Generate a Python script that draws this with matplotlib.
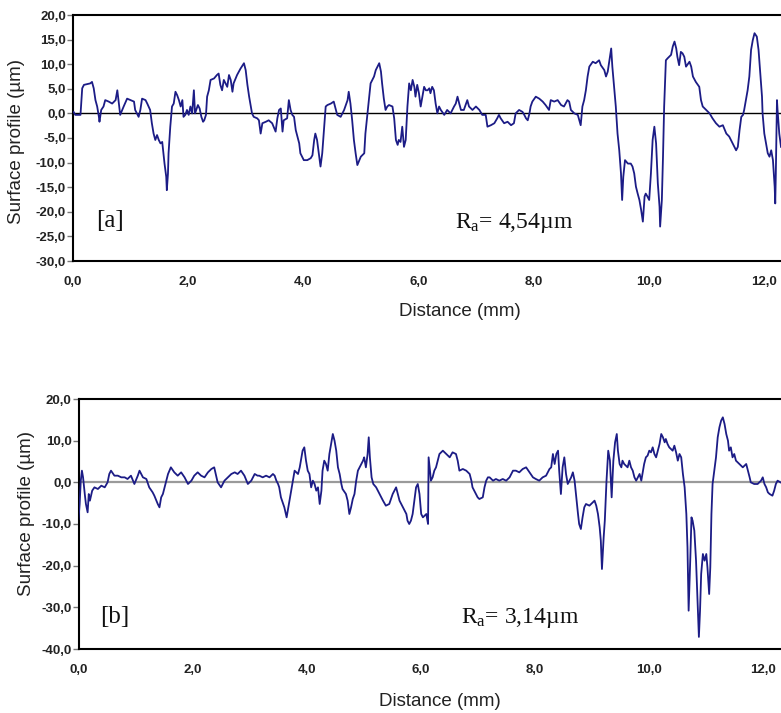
import matplotlib
matplotlib.use("Agg")
import matplotlib.pyplot as plt
from matplotlib.ticker import FuncFormatter
import numpy as np

plt.rcParams['mathtext.fontset'] = 'custom'
plt.rcParams['mathtext.rm'] = 'Liberation Serif'
plt.rcParams['mathtext.it'] = 'Liberation Serif:italic'

# ---------------- data (distance mm, profile um) ----------------
profile_a_1 = [(0.01,0.3),(0.04,-0.3),(0.13,-0.3),(0.16,5.1),(0.19,5.8),(0.30,6.1),(0.33,6.4),(0.36,5.1),(0.39,2.7),(0.42,1.4),
    (0.45,-0.7),(0.46,-1.7),(0.49,0.7),(0.53,1.4),(0.56,2.7),(0.62,2.4),(0.68,2.0),(0.74,2.7),(0.77,4.7),(0.79,2.7),
    (0.82,-0.3),(0.88,1.4),(0.94,3.0),(1.00,2.7),(1.06,2.4),(1.08,0.7),(1.14,-0.7),(1.17,0.7),(1.20,3.0),(1.26,2.7),
    (1.29,2.0),(1.34,0.7),(1.37,-2.0),(1.40,-4.1),(1.43,-5.4),(1.46,-4.4),(1.49,-5.4),(1.52,-6.1),(1.55,-5.8),(1.57,-8.1),
    (1.59,-10.2),(1.62,-12.9),(1.63,-15.6),(1.65,-12.2),(1.66,-8.1),(1.69,-2.7),(1.72,1.4),(1.75,2.0),(1.78,4.4),(1.81,3.7),
    (1.84,2.7),(1.87,1.4),(1.90,2.7),(1.92,-0.7),(1.95,-0.3),(1.98,0.7),(2.01,-0.3),(2.04,1.4),(2.07,0.0),(2.10,4.7),
    (2.12,0.0),(2.14,0.7),(2.17,1.7),(2.20,1.0),(2.23,-0.7),(2.26,-1.7),(2.28,-1.4),(2.31,-0.3),(2.33,3.4),(2.36,4.7),
    (2.39,6.8),(2.45,7.1),(2.50,7.8),(2.53,8.1),(2.56,5.8),(2.59,4.7),(2.62,6.8),(2.68,5.4),(2.71,7.8),(2.74,6.8),
    (2.77,4.4),(2.79,6.1),(2.85,7.8),(2.91,9.1),(2.97,10.2),(3.00,8.8),(3.03,5.8),(3.06,3.4),(3.08,2.0),(3.11,0.0),
    (3.14,-0.7),(3.20,-1.0)]
profile_a_2 = [(3.23,-1.4),(3.26,-4.1),(3.29,-2.0),(3.35,-1.7),(3.40,-1.4),(3.46,-2.0),(3.52,-3.7),(3.55,-1.0),(3.58,0.7),(3.61,1.0),
    (3.64,-3.7),(3.66,-1.4),(3.72,-1.0),(3.75,2.7),(3.78,0.7),(3.81,-0.3),(3.84,-0.7),(3.87,-3.4),(3.93,-6.1),(3.95,-8.1),
    (4.01,-9.5),(4.07,-9.5),(4.13,-9.1),(4.16,-8.5),(4.19,-5.4),(4.21,-4.1),(4.24,-5.4),(4.27,-8.1),(4.30,-10.8),(4.33,-8.1),
    (4.36,-3.4),(4.39,1.4),(4.42,1.7),(4.48,2.0),(4.53,2.4),(4.59,-0.3),(4.65,-0.7),(4.71,0.7),(4.77,2.7),(4.79,4.4),
    (4.82,2.0),(4.85,-1.4),(4.88,-5.4),(4.91,-8.1),(4.94,-10.5),(5.00,-8.8),(5.06,-8.1),(5.08,-4.1),(5.11,-0.7),(5.14,2.7),
    (5.17,6.1),(5.23,7.5),(5.26,8.8),(5.32,10.2),(5.35,8.5),(5.37,6.1),(5.40,3.0),(5.43,0.7),(5.46,1.4),(5.49,1.7),
    (5.55,1.4),(5.58,-1.0),(5.61,-5.4),(5.64,-6.4),(5.66,-5.4),(5.69,-5.8),(5.72,-2.7),(5.75,-6.8),(5.78,-5.4),(5.81,1.4),
    (5.84,6.1),(5.87,4.7),(5.90,6.8),(5.93,5.4),(5.95,3.4),(5.98,5.8),(6.01,4.1),(6.04,1.4),(6.07,3.4),(6.10,5.4),
    (6.13,4.7),(6.16,4.7),(6.19,5.1),(6.21,4.1),(6.24,5.4),(6.27,4.7),(6.30,2.0),(6.33,0.0),(6.36,1.4),(6.39,0.7),
    (6.45,-0.3),(6.50,0.7),(6.56,0.0),(6.62,1.4),(6.65,2.0),(6.68,3.4),(6.71,2.0),(6.74,0.7),(6.79,0.7),(6.85,2.7),
    (6.88,1.4),(6.94,0.7),(7.00,1.4),(7.06,0.7),(7.11,-0.3),(7.17,-0.3),(7.20,-2.7),(7.26,-2.4),(7.32,-2.0),(7.37,-1.0),
    (7.40,-0.3)]
profile_a_3 = [(7.43,-1.0),(7.49,-2.0),(7.55,-1.7),(7.61,-2.4),(7.66,-2.0),(7.69,0.0),(7.75,0.7),(7.81,0.3),(7.84,-0.3),(7.87,-1.0),
    (7.90,-1.4),(7.93,0.0),(7.95,1.4),(7.98,2.4),(8.04,3.4),(8.10,3.0),(8.16,2.4),(8.21,1.7),(8.27,0.7),(8.30,2.7),
    (8.36,2.4),(8.42,2.7),(8.48,1.7),(8.53,1.4),(8.59,2.7),(8.62,2.4),(8.65,0.7),(8.71,0.0),(8.77,-0.3),(8.82,-2.4),
    (8.85,1.4),(8.88,2.7),(8.91,4.7),(8.94,7.5),(8.97,9.5),(9.03,10.5),(9.08,10.2),(9.14,10.8),(9.17,9.8),(9.23,8.8),
    (9.26,7.5),(9.29,8.5),(9.32,10.8),(9.35,13.2),(9.37,9.5),(9.40,5.4),(9.43,1.4),(9.46,-4.1),(9.49,-7.5),(9.52,-12.2),
    (9.54,-17.6),(9.56,-12.9),(9.59,-9.5),(9.64,-10.2),(9.69,-10.2),(9.72,-10.8),(9.75,-12.2),(9.78,-14.9),(9.81,-16.3),(9.84,-17.6),
    (9.87,-19.6),(9.90,-22.0),(9.93,-16.9),(9.95,-16.3),(9.98,-16.9),(10.01,-17.6),(10.04,-12.2),(10.07,-5.4),(10.10,-2.7),(10.13,-6.1),
    (10.16,-14.2),(10.19,-19.0),(10.20,-23.0),(10.23,-17.6),(10.25,-8.8),(10.27,1.4),(10.30,10.8),(10.33,11.2),(10.39,11.9),(10.42,13.6),
    (10.45,14.6),(10.48,13.2),(10.50,11.5),(10.53,9.8),(10.56,12.5),(10.59,12.2),(10.62,11.5),(10.65,9.5),(10.71,10.5),(10.74,9.5),
    (10.77,7.5),(10.82,6.4),(10.88,5.4),(10.91,2.7),(10.94,1.4),(11.00,0.7),(11.06,0.0),(11.11,-1.0),(11.17,-2.0),(11.23,-2.7),
    (11.29,-2.4),(11.35,-4.1),(11.40,-4.7),(11.43,-5.4),(11.49,-6.8),(11.52,-7.5),(11.55,-6.8),(11.58,-3.4),(11.61,-0.7),(11.64,-0.3),
    (11.66,0.7),(11.69,2.7),(11.72,4.7),(11.75,7.5),(11.78,12.9),(11.81,14.9),(11.84,16.3),(11.88,15.6),(11.91,12.9),(11.94,8.1),
    (11.97,3.4),(11.98,0.0),(12.01,-4.1),(12.04,-6.1),(12.07,-8.1),(12.10,-8.8),(12.13,-7.5),(12.16,-9.5),(12.19,-14.9),(12.20,-18.3),
    (12.21,-12.2),(12.23,2.7),(12.24,0.7),(12.27,-4.1),(12.30,-6.8)]

profile_b_1 = [(0.00,-8.8),(0.02,-5.2),(0.04,0.4),(0.06,2.8),(0.08,1.2),(0.11,-2.8),(0.13,-5.2),(0.16,-7.2),(0.18,-2.8),(0.20,-4.4),
    (0.24,-2.0),(0.28,-1.2),(0.34,-1.6),(0.40,-0.8),(0.46,-1.2),(0.51,0.0),(0.54,2.0),(0.57,2.8),(0.63,1.6),(0.69,1.6),
    (0.75,1.2),(0.81,1.2),(0.86,0.8),(0.92,1.6),(0.98,-0.4),(1.04,1.6),(1.07,2.8),(1.13,1.2),(1.19,0.8),(1.24,-1.2),
    (1.30,-2.4),(1.33,-3.2),(1.39,-5.2),(1.42,-6.0),(1.45,-3.6),(1.48,-2.8),(1.51,-1.2),(1.57,2.0),(1.62,3.6),(1.68,2.4),
    (1.74,1.6),(1.80,2.4),(1.86,1.2),(1.92,-0.4),(1.98,0.4),(2.03,1.6),(2.09,2.4),(2.15,1.6),(2.21,1.2),(2.27,2.4),
    (2.33,3.2),(2.38,3.6),(2.44,0.0),(2.50,-1.2),(2.56,0.4),(2.62,1.2),(2.68,2.0),(2.74,2.4),(2.79,2.0),(2.85,2.8),
    (2.91,1.6),(2.97,-0.4),(3.03,0.4),(3.09,2.0),(3.14,1.6)]
profile_b_2 = [(3.17,1.6),(3.23,1.2),(3.29,1.6),(3.35,1.2),(3.41,2.0),(3.44,1.6),(3.47,0.4),(3.50,-0.4),(3.52,-1.2),(3.55,-3.6),
    (3.61,-6.0),(3.65,-8.4),(3.69,-5.2),(3.73,-2.0),(3.76,0.4),(3.79,2.8),(3.85,2.0),(3.88,3.6),(3.90,5.2),(3.93,7.6),
    (3.96,8.4),(3.99,5.2),(4.02,2.8),(4.05,2.0),(4.08,-1.2),(4.11,0.4),(4.14,-0.4),(4.17,-2.0),(4.20,-1.2),(4.23,-5.2),
    (4.26,-2.0),(4.28,2.8),(4.31,5.2),(4.34,4.4),(4.37,2.8),(4.40,6.8),(4.43,9.2),(4.46,11.6),(4.49,10.0),(4.52,7.6),
    (4.55,3.6),(4.58,2.0),(4.61,-0.4),(4.63,-1.6),(4.69,-2.8),(4.72,-4.4),(4.75,-7.6),(4.78,-6.0),(4.81,-4.0),(4.84,-2.8),
    (4.87,0.4),(4.90,2.8),(4.93,3.6),(4.96,4.4),(4.99,5.2),(5.01,6.0),(5.04,3.6),(5.07,6.8),(5.09,10.8),(5.11,6.0),
    (5.14,1.2),(5.17,-0.4),(5.22,-1.2),(5.28,-2.8),(5.34,-4.4),(5.39,-5.6),(5.45,-5.2),(5.51,-2.8),(5.54,-2.0),(5.57,-1.2),
    (5.60,-2.8),(5.63,-4.4),(5.69,-6.0),(5.75,-7.6),(5.77,-9.2),(5.80,-10.0),(5.83,-9.2),(5.86,-7.6),(5.89,-4.4),(5.92,-1.2),
    (5.95,-0.4),(5.98,-2.8),(6.01,-7.6),(6.04,-8.4),(6.07,-8.0),(6.10,-7.6),(6.13,-10.0),(6.14,6.0),(6.17,2.0),(6.18,0.4),
    (6.21,1.2),(6.24,2.8),(6.27,3.6),(6.30,5.2),(6.33,6.8),(6.36,7.2),(6.39,7.6),(6.45,6.8),(6.51,6.0),(6.56,7.2),
    (6.62,6.8),(6.65,5.2),(6.68,2.8),(6.74,3.2),(6.80,2.8),(6.86,2.0),(6.89,0.4),(6.91,-1.2),(6.94,-2.0),(6.97,-2.8),
    (7.00,-3.6),(7.03,-4.0),(7.09,-3.6),(7.12,-1.2),(7.15,0.4),(7.18,1.2),(7.21,1.2),(7.27,0.4),(7.32,0.8)]
profile_b_3 = [(7.38,0.4),(7.44,0.8),(7.50,0.4),(7.56,1.2),(7.62,2.8),(7.67,2.8),(7.73,2.4),(7.79,3.2),(7.85,3.6),(7.91,2.4),
    (7.97,1.2),(8.02,0.8),(8.08,0.4),(8.14,1.2),(8.20,1.6),(8.26,3.2),(8.29,3.6),(8.32,6.8),(8.35,4.4),(8.38,6.8),
    (8.41,7.6),(8.43,2.8),(8.46,-2.8),(8.49,3.6),(8.52,6.0),(8.55,2.0),(8.58,-0.4),(8.61,0.4),(8.64,1.2),(8.67,2.4),
    (8.70,0.4),(8.73,-3.6),(8.76,-7.6),(8.78,-10.0),(8.81,-11.2),(8.84,-8.4),(8.87,-6.0),(8.90,-5.2),(8.96,-5.6),(9.02,-4.8),
    (9.05,-4.4),(9.08,-5.6),(9.11,-7.6),(9.14,-10.8),(9.16,-14.0),(9.18,-20.8),(9.21,-13.2),(9.23,-9.2),(9.26,0.4),(9.29,7.6),
    (9.32,5.2),(9.35,-3.6),(9.38,5.2),(9.41,9.6),(9.44,11.6),(9.46,7.6),(9.49,4.4),(9.52,3.6),(9.54,5.2),(9.57,4.4),
    (9.60,4.0),(9.63,3.6),(9.66,5.2),(9.69,3.6),(9.72,2.8),(9.75,1.2),(9.78,0.4),(9.81,1.2),(9.84,2.0),(9.87,0.4),
    (9.90,2.8),(9.92,4.4),(9.95,6.0),(9.98,6.4),(10.01,7.6),(10.04,7.2),(10.07,8.4),(10.10,6.8),(10.13,6.0),(10.16,7.6),
    (10.19,9.2),(10.22,11.6),(10.25,10.8),(10.28,9.6),(10.30,10.4),(10.33,9.2),(10.36,8.4),(10.42,7.6),(10.45,8.8),(10.48,7.2),
    (10.51,5.2),(10.54,6.8),(10.57,6.0),(10.60,2.0),(10.63,-1.2),(10.66,-7.6),(10.68,-15.6),(10.70,-30.8),(10.73,-18.0),(10.75,-8.4),
    (10.77,-9.2),(10.80,-11.6),(10.83,-18.8),(10.86,-30.0),(10.88,-37.1),(10.90,-30.8),(10.92,-22.0),(10.95,-17.2),(10.98,-18.8),(11.01,-17.2),
    (11.03,-20.4),(11.06,-26.8),(11.08,-20.4),(11.10,-7.6),(11.12,-0.4),(11.15,2.8),(11.18,6.0),(11.21,10.8),(11.24,13.2),(11.27,14.8),
    (11.30,15.6),(11.33,14.0),(11.36,11.6),(11.39,10.0),(11.41,7.6),(11.44,8.4),(11.47,6.0),(11.50,6.8),(11.53,5.2),(11.59,4.4),
    (11.65,3.6),(11.71,4.4),(11.74,2.8),(11.77,1.2),(11.79,0.0),(11.85,-0.4),(11.91,-0.4),(11.97,0.4),(12.00,1.2),(12.03,-0.4),
    (12.06,-1.2),(12.09,-2.4),(12.12,-2.8),(12.17,-3.2),(12.20,-2.0),(12.23,-0.4),(12.26,0.4),(12.31,0.0)]

x_ticks = [0, 2, 4, 6, 8, 10, 12]
yticks_a = [-30, -25, -20, -15, -10, -5, 0, 5, 10, 15, 20]
yticks_b = [-40, -30, -20, -10, 0, 10, 20]
panel_labels = ["[a]", "[b]"]
ra_labels = [r"R$_{\mathrm{a}}$= 4,54µm", r"R$_{\mathrm{a}}$= 3,14µm"]
xlabel = "Distance (mm)"
ylabel = "Surface profile (µm)"

LINE = '#1c1c86'
W, H = 781, 713

fig = plt.figure(figsize=(W / 100, H / 100), dpi=100)
fig.patch.set_facecolor('white')

comma = FuncFormatter(lambda v, p: f"{v:.1f}".replace('.', ','))

def make_axes(left, top, bottom, xmax, ylim, yticks, zero_color, zero_lw):
    ax = fig.add_axes([left / W, 1 - bottom / H, 1 - left / W, (bottom - top) / H])
    ax.set_xlim(0, xmax)
    ax.set_ylim(*ylim)
    ax.spines['right'].set_visible(False)
    for s in ('top', 'left', 'bottom'):
        ax.spines[s].set_linewidth(1.5)
        ax.spines[s].set_color('black')
    ax.set_xticks(x_ticks)
    ax.set_yticks(yticks)
    ax.xaxis.set_major_formatter(comma)
    ax.yaxis.set_major_formatter(comma)
    ax.tick_params(axis='x', length=0, pad=11, labelsize=9.5, labelcolor='#222222')
    ax.tick_params(axis='y', length=4, width=1, color='#777777', pad=1, labelsize=9.5, labelcolor='#222222')
    for lbl in ax.get_xticklabels() + ax.get_yticklabels():
        lbl.set_fontfamily('Liberation Sans')
        lbl.set_fontweight('bold')
    ax.axhline(0, color=zero_color, lw=zero_lw, zorder=1)
    return ax

ax1 = make_axes(73, 15, 261, 12.30, (-30, 20), yticks_a, 'black', 1.0)
ax2 = make_axes(78.5, 399, 649, 12.32, (-40, 20), yticks_b, '#9a9a9a', 1.6)

for ax, segs in ((ax1, (profile_a_1, profile_a_2, profile_a_3)),
                 (ax2, (profile_b_1, profile_b_2, profile_b_3))):
    pts = [p for s in segs for p in s]
    xs = [p[0] for p in pts]
    ys = [p[1] for p in pts]
    ax.plot(xs, ys, color=LINE, lw=1.3, zorder=3)

# axis labels
fig.text(17 / W, 1 - 142 / H, ylabel, rotation=90, ha='center', va='center',
         fontsize=13.5, family='Liberation Sans', color='#222222')
fig.text(27 / W, 1 - 514 / H, ylabel, rotation=90, ha='center', va='center',
         fontsize=13.5, family='Liberation Sans', color='#222222')
fig.text(460 / W, 1 - 311 / H, xlabel, ha='center', va='center',
         fontsize=13.5, family='Liberation Sans', color='#222222')
fig.text(440 / W, 1 - 702 / H, xlabel, ha='center', va='center',
         fontsize=13.5, family='Liberation Sans', color='#222222')

# panel annotations
fig.text(96 / W, 1 - 221 / H, panel_labels[0], ha='left', va='center',
         fontsize=18, family='Liberation Serif', color='#111111')
fig.text(100 / W, 1 - 617 / H, panel_labels[1], ha='left', va='center',
         fontsize=18, family='Liberation Serif', color='#111111')
fig.text(455 / W, 1 - 223 / H, ra_labels[0], ha='left', va='center',
         fontsize=17, family='Liberation Serif', color='#111111')
fig.text(461 / W, 1 - 618 / H, ra_labels[1], ha='left', va='center',
         fontsize=17, family='Liberation Serif', color='#111111')

fig.savefig('out.png', dpi=100)
